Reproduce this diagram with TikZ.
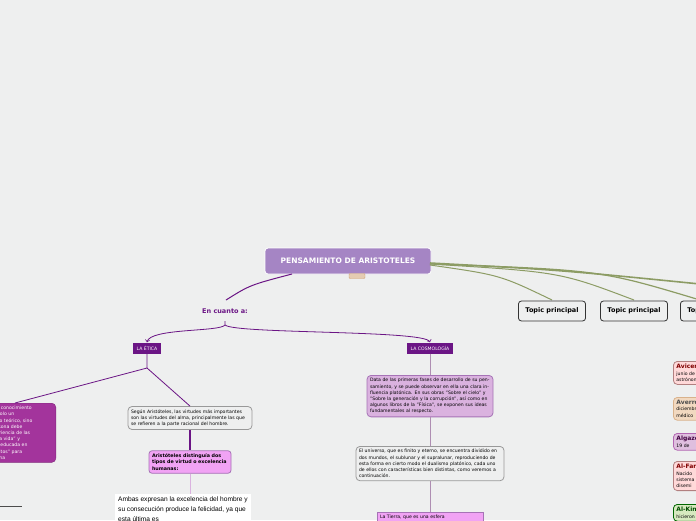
\documentclass[tikz,border=0pt]{standalone}
\usepackage{fontspec}
\setmainfont{DejaVu Sans}
\newfontfamily\handfont{Liberation Sans}
\definecolor{bgc}{HTML}{EEEFEF}
\definecolor{titlec}{HTML}{A585C4}
\definecolor{darkp}{HTML}{6B1585}
\definecolor{magc}{HTML}{A3349C}
\definecolor{lilac}{HTML}{DAB2DF}
\definecolor{pinkc}{HTML}{F1A3F4}
\definecolor{olivec}{HTML}{8C9C64}
\tikzset{
  tiny/.style={font=\fontsize{4.6}{6.2}\selectfont, align=left, inner sep=3pt},
  topic/.style={draw=black!80, thick, rounded corners=3pt, fill=bgc, font=\fontsize{6.5}{8}\selectfont\bfseries, minimum height=20pt, inner xsep=7pt},
  catbox/.style={fill=darkp, text=white, font=\fontsize{4.6}{6}\selectfont, minimum height=11pt, inner xsep=4pt, drop shadow/.style={}},
  notebox/.style={tiny, rounded corners=4pt, draw=black!40, fill=bgc, thick},
  sidebox/.style={tiny, rounded corners=4pt, thick, anchor=north west, text width=50pt},
  link/.style={darkp, thick},
  olink/.style={olivec, line width=1.6pt}
}
\begin{document}
\begin{tikzpicture}[x=1pt,y=-1pt]
\useasboundingbox (0,0) rectangle (696,520);
\clip (0,0) rectangle (696,520);
\fill[bgc] (0,0) rectangle (696,520);

% main topic
\node (title) [fill=titlec, draw=white, thick, rounded corners=3pt, text=white, font=\fontsize{7.5}{9}\selectfont\bfseries, minimum width=166pt, minimum height=26pt] at (348,261) {PENSAMIENTO DE ARISTOTELES};
\node (tab) [fill=brown!40, draw=brown!70, rounded corners=1pt, minimum width=16pt, minimum height=5pt, inner sep=0pt] at (357,276) {};

% green links to the right
\coordinate (farA) at (700,284);
\draw[olink] (430,263) .. controls (560,270) .. (farA);
\draw[olivec, line width=1pt] (430,265) .. controls (500,275) .. (552,300);
\draw[olivec, line width=1pt] (430,264) .. controls (560,272) .. (634,300);
\draw[olivec, line width=1.2pt] (430,264) .. controls (600,270) .. (700,300);
\node (topA) [topic] at (552,311) {Topic principal};
\node (topB) [topic] at (634,311) {Topic principal};
\node (topC) [topic, anchor=west] at (680,311) {Topic principal};

% en cuanto a
\node (cuanto) [font=\fontsize{6.5}{8}\selectfont\bfseries, text=darkp] at (225,311) {En cuanto a:};
\draw[darkp, line width=1pt] (292,274) .. controls (250,285) .. (226,300);
\node (etica) [catbox] at (147,348) {LA ÉTICA};
\node (cosmo) [catbox] at (430,348) {LA COSMOLOGÍA};
\draw[link, ->] (225,321) -- (225,325) .. controls (220,332) and (150,328) .. (etica.north);
\draw[link, ->] (225,325) .. controls (235,334) and (425,330) .. (cosmo.north);

% etica branch
\node (saber) [tiny, fill=magc, text=white, rounded corners=4pt, anchor=north east, text width=62pt, draw=magc!80!black] at (56,403) {e el conocimiento\\ es solo un\\ iento teórico, sino\\ persona debe\\ xperiencia de las\\ en la vida" y\\ do "educada en\\ hábitos" para\\ buena};
\node (virtud) [notebox, text width=118pt] at (190,418) {Según Aristóteles, las virtudes más importantes son las virtudes del alma, principalmente las que se refieren a la parte racional del hombre.};
\node (tipos) [tiny, fill=pinkc, draw=darkp!60, rounded corners=3pt, thick, text width=76pt, font=\fontsize{4.8}{6.3}\selectfont\bfseries] at (190,462) {Aristóteles distinguía dos tipos de virtud o excelencia humanas:};
\node (ambas) [fill=white, anchor=north west, align=left, inner sep=3pt, font=\handfont\fontsize{6.6}{10}\selectfont] at (115,494) {Ambas expresan la excelencia del hombre y\\ su consecución produce la felicidad, ya que\\ esta última es};
\draw[link] (etica.south) -- (147,368) -- (15,403);
\draw[link] (147,368) -- (virtud.north);
\draw[darkp, line width=1.4pt] (virtud.south) -- (tipos.north);
\draw[lilac, thick] (tipos.south) -- (ambas.north -| tipos.south);
\draw[black!70] (0,506) -- (22,506);

% cosmologia branch
\node (data) [tiny, fill=lilac, draw=darkp!60, thick, rounded corners=4pt, text width=120pt, anchor=north] at (430,375) {Data de las primeras fases de desarrollo de su pensamiento, y se puede observar en ella una clara influencia platónica. En sus obras "Sobre el cielo" y "Sobre la generación y la corrupción", así como en algunos libros de la "Física", se exponen sus ideas fundamentales al respecto.};
\node (universo) [notebox, text width=142pt, anchor=north] at (430,446) {El universo, que es finito y eterno, se encuentra dividido en dos mundos, el sublunar y el supralunar, reproduciendo de esta forma en cierto modo el dualismo platónico, cada uno de ellos con características bien distintas, como veremos a continuación.};
\node (tierra) [tiny, fill=pinkc, draw=darkp!60, thick, text width=100pt, anchor=north] at (430,512) {La Tierra, que es una esfera\\ };
\draw[lilac!80!black, thick] (cosmo.south) -- (data.north);
\draw[lilac!80!black, thick] (data.south) -- (universo.north);
\draw[lilac!80!black, thick] (universo.south) -- (tierra.north);

% right column
\node (avicena) [sidebox, fill=red!15, draw=red!40!black!50] at (673,361) {\textcolor{red!50!black}{\fontsize{6}{7}\selectfont\bfseries Avicena}\\ junio de\\ astrónomo};
\node (averroes) [sidebox, fill=orange!30!brown!30, draw=brown!60] at (673,397) {\textcolor{black!70}{\fontsize{6}{7}\selectfont\bfseries Averroes}\\ diciembre\\ médico};
\node (algazel) [sidebox, fill=violet!25, draw=violet!60] at (673,433) {\textcolor{violet!50!black}{\fontsize{6}{7}\selectfont\bfseries Algazel}\\ 19 de};
\node (farabi) [sidebox, fill=red!15, draw=red!40!black!50] at (673,461) {\textcolor{red!50!black}{\fontsize{6}{7}\selectfont\bfseries Al-Farabi}\\ Nacido\\ sistema\\ disemi};
\node (kindi) [sidebox, fill=green!30!olive!25, draw=green!40!black] at (673,504) {\textcolor{green!30!black}{\fontsize{6}{7}\selectfont\bfseries Al-Kindi}\\ hicieron};
\end{tikzpicture}
\end{document}
